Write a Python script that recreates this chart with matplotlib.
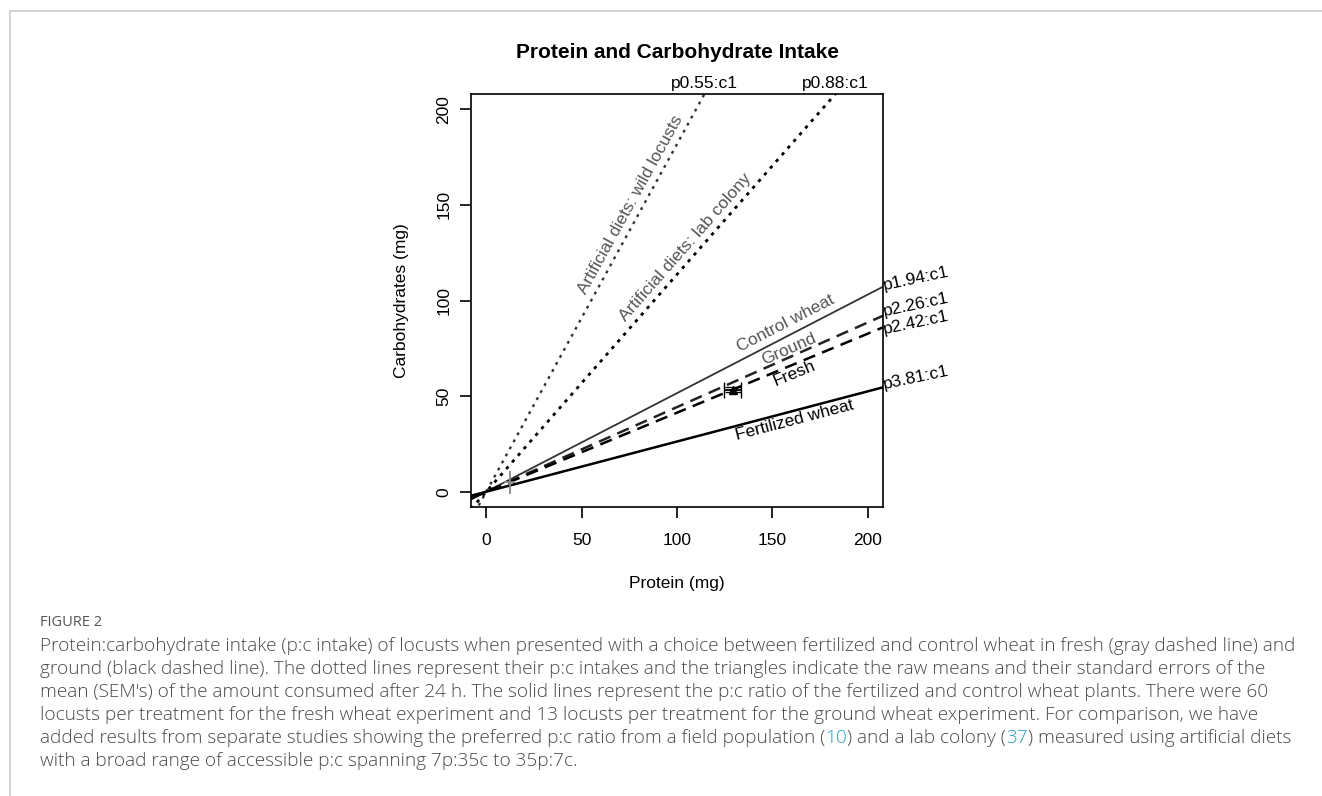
import numpy as np
import matplotlib
matplotlib.use("Agg")
import matplotlib.pyplot as plt
from matplotlib.lines import Line2D

plt.rcParams['font.family'] = ['Liberation Sans', 'DejaVu Sans']

# p:c ratios (protein per 1 carbohydrate)
ratio_labels = ["p0.55:c1", "p0.88:c1", "p1.94:c1", "p2.26:c1", "p2.42:c1", "p3.81:c1"]
ratios = [0.55, 0.88, 1.94, 2.26, 2.42, 3.81]
line_names = ["Artificial diets: wild locusts", "Artificial diets: lab colony",
              "Control wheat", "Ground", "Fresh", "Fertilized wheat"]

# raw means +- SEM
fresh_mean = (129.2, 53.4)
fresh_sem = (4.6, 1.2)
ground_mean = (12.2, 5.0)
ground_sem = (3.0, 6.0)

xticks = [0, 50, 100, 150, 200]
yticks = [0, 50, 100, 150, 200]

W, H = 1322, 796
fig = plt.figure(figsize=(W / 100, H / 100), dpi=100)

# outer panel border
fig.add_artist(Line2D([9.5 / W, 1], [1 - 10.5 / H] * 2, color='#cccccc', lw=1.2))
fig.add_artist(Line2D([9.5 / W] * 2, [0, 1 - 10.5 / H], color='#cccccc', lw=1.2))

ax = fig.add_axes([471 / W, 1 - 507 / H, (883 - 471) / W, (507 - 94) / H])
ax.set_xlim(-8, 208)
ax.set_ylim(-8, 208)

xs = np.array([-8.0, 208.0])
styles = [
    dict(color='#333333', lw=1.7, ls=(0, (1.2, 2.2))),
    dict(color='black', lw=2.0, ls=(0, (1.2, 2.0))),
    dict(color='#333333', lw=1.3, ls='-'),
    dict(color='#222222', lw=1.8, ls=(0, (5, 3))),
    dict(color='black', lw=1.8, ls=(0, (5, 3))),
    dict(color='black', lw=1.8, ls='-'),
]
for r, st in zip(ratios, styles):
    ax.plot(xs, xs / r, **st)

# error bars
ax.errorbar(*ground_mean, xerr=ground_sem[0], yerr=ground_sem[1], color='#888888',
            lw=1.3, capsize=0, fmt='none')
ax.errorbar(*fresh_mean, xerr=fresh_sem[0], yerr=fresh_sem[1], color='black',
            lw=1.3, capsize=6, fmt='^', ms=6)

fs = 12.5
# labels along the lines: (x on line, perpendicular offset px, colour)
label_pos = [(81.0, 12, '#555555'), (109.0, 12, '#555555'), (159.7, 12, '#555555'),
             (160.2, 8, '#555555'), (159.7, -9, 'black'), (160.2, -9.5, 'black')]
for name, r, (px, off, col) in zip(line_names, ratios, label_pos):
    ang = np.arctan(1 / r)
    dx, dy = -np.sin(ang) * off, np.cos(ang) * off
    ax.annotate(name, xy=(px, px / r), xytext=(dx, dy), textcoords='offset pixels',
                rotation=np.degrees(ang), ha='center', va='center', fontsize=fs,
                color=col, rotation_mode='anchor')

# ratio labels: top edge for steep lines, right edge for shallow ones
right_shift = {"p1.94:c1": -3, "p2.26:c1": 0, "p2.42:c1": -7, "p3.81:c1": -2}
for lab, r in zip(ratio_labels, ratios):
    if 208 / r > 208:
        ax.annotate(lab, xy=(208 * r, 208), xytext=(0, 3), textcoords='offset pixels',
                    ha='center', va='bottom', fontsize=fs, annotation_clip=False)
    else:
        ax.annotate(lab, xy=(208, 208 / r), xytext=(1, right_shift[lab]),
                    textcoords='offset pixels', ha='left', va='baseline', fontsize=fs,
                    rotation=12, rotation_mode='anchor', annotation_clip=False)

ax.set_xticks(xticks)
ax.set_yticks(yticks)
ax.tick_params(length=8, width=1.2, labelsize=fs, pad=11)
ax.tick_params(axis='y', labelrotation=90, pad=6)
for lab in ax.get_yticklabels():
    lab.set_va('center')
for sp in ax.spines.values():
    sp.set_linewidth(1.2)
ax.set_xlabel("Protein (mg)", fontsize=fs, labelpad=20)
ax.set_ylabel("Carbohydrates (mg)", fontsize=fs, labelpad=20)
fig.text(677 / W, 1 - 53 / H, "Protein and Carbohydrate Intake", ha='center',
         va='center', fontsize=15, fontweight='bold')

# caption
cap = fig.add_axes([0, 0, 1, 1])
cap.axis('off')
cap.set_xlim(0, W)
cap.set_ylim(H, 0)
ccol = '#4a4a4a'
cfam = ['Open Sans', 'DejaVu Sans']
cfont = dict(family=cfam, fontsize=13.7, color=ccol, fontweight='light')
cap.text(40, 622, "FIGURE 2", family=cfam, fontsize=10.5, color='#555555', va='center')
caption = [
    "Protein:carbohydrate intake (p:c intake) of locusts when presented with a choice between fertilized and control wheat in fresh (gray dashed line) and",
    "ground (black dashed line). The dotted lines represent their p:c intakes and the triangles indicate the raw means and their standard errors of the",
    "mean (SEM's) of the amount consumed after 24 h. The solid lines represent the p:c ratio of the fertilized and control wheat plants. There were 60",
    "locusts per treatment for the fresh wheat experiment and 13 locusts per treatment for the ground wheat experiment. For comparison, we have",
    None,
    "with a broad range of accessible p:c spanning 7p:35c to 35p:7c.",
]
for i, line in enumerate(caption):
    y = 646 + i * 23
    if line is not None:
        cap.text(40, y, line, va='center', **cfont)
        continue
    parts = [("added results from separate studies showing the preferred p:c ratio from a field population (", ccol),
             ("10", '#2a9fbc'), (") and a lab colony (", ccol), ("37", '#2a9fbc'),
             (") measured using artificial diets", ccol)]
    t = cap.text(40, y, parts[0][0], va='center', **{**cfont, 'color': parts[0][1]})
    for txt, col in parts[1:]:
        t = cap.annotate(txt, xy=(1, 0), xycoords=t, va='bottom', ha='left',
                         **{**cfont, 'color': col})

fig.savefig("out.png", dpi=100)
